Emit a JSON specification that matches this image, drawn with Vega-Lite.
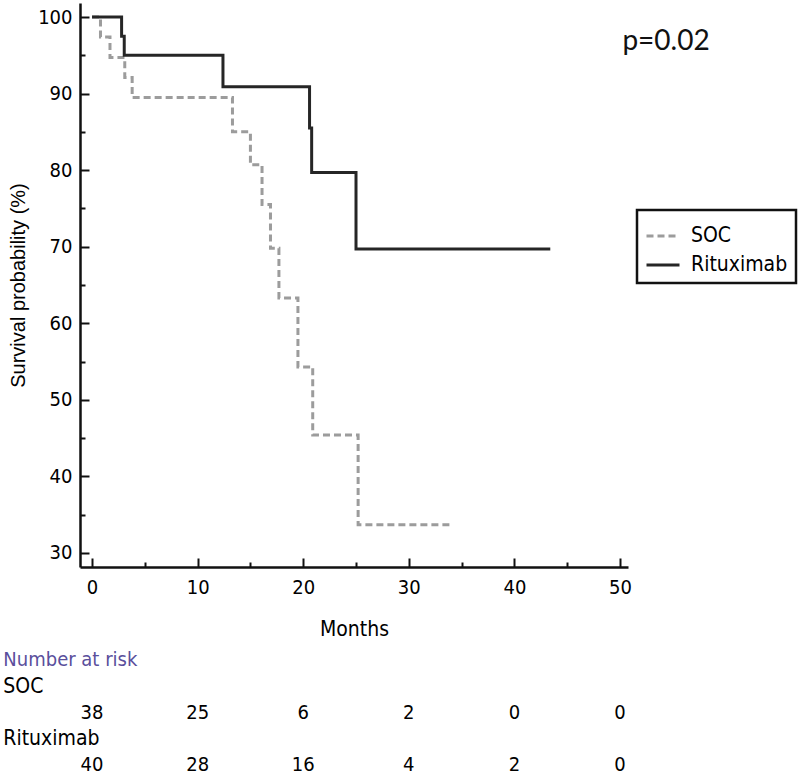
{
  "$schema": "https://vega.github.io/schema/vega-lite/v6.json",
  "width": 548,
  "height": 564,
  "autosize": {"type": "none"},
  "padding": {"left": 80, "top": 3, "right": 172, "bottom": 208},
  "background": "white",
  "config": {
    "view": {"stroke": null},
    "font": "DejaVu Sans Condensed, Liberation Sans, sans-serif",
    "axis": {
      "domainColor": "#111111",
      "domainWidth": 2.5,
      "tickColor": "#111111",
      "tickWidth": 2,
      "grid": false,
      "labelColor": "#000000",
      "labelFont": "DejaVu Sans Condensed, Liberation Sans, sans-serif",
      "labelFontSize": 20,
      "titleColor": "#000000",
      "titleFontWeight": "normal"
    },
    "legend": {
      "strokeColor": "#111111",
      "padding": 8,
      "symbolType": "stroke",
      "symbolSize": 1089,
      "symbolStrokeWidth": 3,
      "labelFont": "DejaVu Sans Condensed, Liberation Sans, sans-serif",
      "labelFontSize": 21,
      "labelColor": "#000000",
      "labelOffset": 10,
      "rowPadding": 1,
      "labelLimit": 300
    }
  },
  "datasets": {
    "km": [
      {"arm": "SOC", "month": 0, "surv": 100},
      {"arm": "SOC", "month": 0.8, "surv": 97.4},
      {"arm": "SOC", "month": 1.7, "surv": 94.7},
      {"arm": "SOC", "month": 3.1, "surv": 92.1},
      {"arm": "SOC", "month": 3.8, "surv": 89.5},
      {"arm": "SOC", "month": 13.3, "surv": 85.0},
      {"arm": "SOC", "month": 15.0, "surv": 80.7},
      {"arm": "SOC", "month": 16.1, "surv": 75.5},
      {"arm": "SOC", "month": 16.9, "surv": 69.8},
      {"arm": "SOC", "month": 17.7, "surv": 63.3},
      {"arm": "SOC", "month": 19.5, "surv": 54.3},
      {"arm": "SOC", "month": 20.9, "surv": 45.4},
      {"arm": "SOC", "month": 25.2, "surv": 33.7},
      {"arm": "SOC", "month": 34.2, "surv": 33.7},
      {"arm": "Rituximab", "month": 0, "surv": 100},
      {"arm": "Rituximab", "month": 2.8, "surv": 97.5},
      {"arm": "Rituximab", "month": 3.05, "surv": 95.0},
      {"arm": "Rituximab", "month": 12.4, "surv": 90.9},
      {"arm": "Rituximab", "month": 20.6, "surv": 85.5},
      {"arm": "Rituximab", "month": 20.8, "surv": 79.7},
      {"arm": "Rituximab", "month": 25.0, "surv": 69.7},
      {"arm": "Rituximab", "month": 43.4, "surv": 69.7}
    ],
    "risk": [
      {"group": "SOC", "month": 0, "n": 38},
      {"group": "SOC", "month": 10, "n": 25},
      {"group": "SOC", "month": 20, "n": 6},
      {"group": "SOC", "month": 30, "n": 2},
      {"group": "SOC", "month": 40, "n": 0},
      {"group": "SOC", "month": 50, "n": 0},
      {"group": "Rituximab", "month": 0, "n": 40},
      {"group": "Rituximab", "month": 10, "n": 28},
      {"group": "Rituximab", "month": 20, "n": 16},
      {"group": "Rituximab", "month": 30, "n": 4},
      {"group": "Rituximab", "month": 40, "n": 2},
      {"group": "Rituximab", "month": 50, "n": 0}
    ],
    "groups": [
      {"group": "SOC"},
      {"group": "Rituximab"}
    ],
    "notes": [
      {"label": "p=0.02"}
    ],
    "header": [
      {"label": "Number at risk"}
    ]
  },
  "layer": [
    {
      "layer": [
        {
          "data": {"name": "km"},
          "mark": {"type": "line", "interpolate": "step-after", "strokeWidth": 3},
          "encoding": {
            "x": {
              "field": "month",
              "type": "quantitative",
              "scale": {"domain": [-1.14, 50.76], "nice": false, "zero": false},
              "axis": {
                "title": "Months",
                "titleFont": "DejaVu Sans Condensed, Liberation Sans, sans-serif",
                "titleFontSize": 21,
                "titlePadding": 21,
                "values": [0, 5, 10, 15, 20, 25, 30, 35, 40, 45, 50],
                "labelExpr": "datum.value % 10 === 0 ? datum.label : ''",
                "tickSize": {"condition": {"test": "datum.value % 10 === 0", "value": -9}, "value": -5},
                "labelPadding": 19
              }
            },
            "y": {
              "field": "surv",
              "type": "quantitative",
              "scale": {"domain": [28.17, 101.83], "nice": false, "zero": false},
              "axis": {
                "title": "Survival probability (%)",
                "titleFontSize": 20,
                "titleFont": "Liberation Sans, Arial, sans-serif",
                "titlePadding": 9,
                "values": [30, 35, 40, 45, 50, 55, 60, 65, 70, 75, 80, 85, 90, 95, 100],
                "labelExpr": "datum.value % 10 === 0 ? datum.label : ''",
                "tickSize": {"condition": {"test": "datum.value % 10 === 0", "value": -9}, "value": -5},
                "labelPadding": 17
              }
            },
            "color": {
              "field": "arm",
              "type": "nominal",
              "scale": {"domain": ["SOC", "Rituximab"], "range": ["#9c9c9c", "#262626"]},
              "legend": {
                "title": null,
                "orient": "none",
                "legendX": 557,
                "legendY": 207,
                "encode": {"legend": {"update": {"strokeWidth": {"value": 2.5}}}}
              }
            },
            "strokeDash": {
              "field": "arm",
              "type": "nominal",
              "scale": {"domain": ["SOC", "Rituximab"], "range": [[7, 4], [1, 0]]},
              "legend": {
                "title": null,
                "orient": "none",
                "legendX": 557,
                "legendY": 207,
                "encode": {"legend": {"update": {"strokeWidth": {"value": 2.5}}}}
              }
            }
          }
        },
        {
          "data": {"name": "notes"},
          "mark": {"type": "text", "font": "Lato, Open Sans, sans-serif", "fontSize": 28, "align": "center", "baseline": "middle", "color": "#111111"},
          "encoding": {
            "x": {"datum": 54.36, "type": "quantitative"},
            "y": {"datum": 96.7, "type": "quantitative"},
            "text": {"field": "label"}
          }
        }
      ]
    },
    {
      "layer": [
        {
          "data": {"name": "risk"},
          "mark": {"type": "text", "fontSize": 20, "align": "center", "baseline": "middle", "color": "#000000"},
          "encoding": {
            "x": {"field": "month", "type": "quantitative"},
            "y": {
              "field": "group",
              "type": "nominal",
              "scale": {"type": "point", "domain": ["Number at risk", "SOC", "Rituximab"], "range": [657, 762], "padding": 0},
              "axis": null
            },
            "text": {"field": "n"}
          }
        },
        {
          "data": {"name": "groups"},
          "mark": {"type": "text", "fontSize": 21, "align": "left", "baseline": "middle", "dy": -26, "color": "#000000"},
          "encoding": {
            "x": {"datum": -8.4, "type": "quantitative"},
            "y": {"field": "group", "type": "nominal"},
            "text": {"field": "group"}
          }
        },
        {
          "data": {"name": "header"},
          "mark": {"type": "text", "fontSize": 20, "align": "left", "baseline": "middle", "color": "#5a4f9c"},
          "encoding": {
            "x": {"datum": -8.4, "type": "quantitative"},
            "y": {"datum": "Number at risk", "type": "nominal"},
            "text": {"field": "label"}
          }
        }
      ]
    }
  ],
  "resolve": {"scale": {"y": "independent"}}
}
